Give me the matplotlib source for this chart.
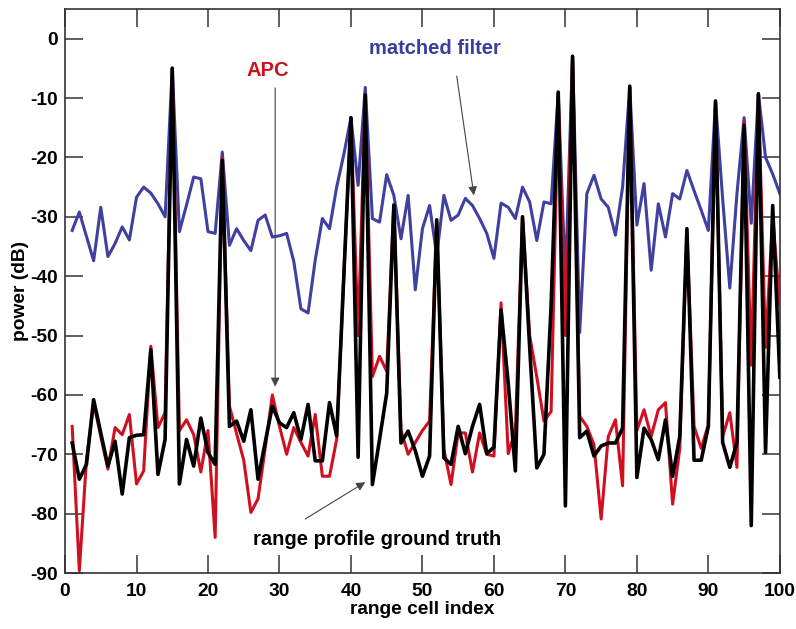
import matplotlib.pyplot as plt
import numpy as np

# range cell index 1..100
cells = np.arange(1, 101)

# matched filter (blue)
matched = [-32.3, -29.2, -33.3, -37.4, -28.4, -36.7, -34.5, -31.7, -33.9, -26.7,
           -25.0, -26.0, -27.8, -30.0, -4.9, -32.5, -28.0, -23.3, -23.6, -32.5,
           -32.8, -19.1, -34.8, -32.0, -34.0, -35.7, -30.6, -29.7, -33.4, -33.2,
           -32.8, -37.5, -45.5, -46.2, -37.3, -30.3, -32.0, -25.0, -19.5, -13.3,
           -24.7, -8.2, -30.3, -30.9, -22.9, -26.4, -33.7, -26.4, -42.3, -32.0,
           -28.1, -36.5, -26.4, -30.6, -29.7, -26.9, -28.1, -30.3, -32.8, -37.0,
           -27.7, -28.4, -30.3, -25.0, -27.5, -34.0, -27.5, -27.8, -9.1, -40.7,
           -2.9, -49.5, -26.1, -23.0, -27.0, -28.4, -33.1, -25.0, -8.2, -31.4,
           -24.4, -39.0, -27.8, -33.4, -26.1, -27.0, -22.2, -25.6, -28.9, -32.3,
           -10.5, -27.0, -42.0, -26.1, -13.3, -31.1, -9.2, -20.0, -22.8, -26.1]

# APC (red)
apc = [-65.3, -89.6, -70.9, -61.3, -67.0, -72.5, -65.5, -66.7, -63.3, -75.0,
       -72.8, -51.8, -65.5, -63.0, -5.0, -66.0, -64.2, -66.7, -73.0, -66.0,
       -84.0, -20.0, -61.9, -66.5, -71.0, -79.8, -77.5, -69.0, -60.0, -65.3,
       -70.0, -65.5, -68.0, -70.3, -63.3, -73.7, -73.7, -67.5, -40.0, -13.5,
       -50.0, -9.5, -56.9, -53.5, -56.0, -28.0, -66.0, -70.0, -68.0, -66.0,
       -64.4, -31.0, -69.2, -75.1, -66.4, -66.4, -73.0, -66.4, -70.0, -70.3,
       -44.5, -69.9, -66.0, -30.0, -50.0, -57.0, -64.4, -62.8, -9.5, -50.0,
       -3.0, -63.6, -65.3, -68.4, -80.9, -67.0, -64.2, -75.3, -8.2, -66.0,
       -62.5, -67.0, -62.5, -61.3, -78.4, -69.0, -32.5, -65.3, -69.0, -65.0,
       -11.0, -67.0, -63.0, -72.2, -14.0, -55.0, -9.5, -52.0, -30.0, -45.0]

# range profile ground truth (black)
truth = [-68.1, -74.2, -71.7, -60.8, -66.4, -72.0, -67.8, -76.7, -67.2, -66.8,
         -66.7, -52.4, -73.4, -67.5, -5.0, -75.0, -67.5, -72.0, -63.9, -69.7,
         -71.7, -20.5, -65.3, -64.4, -67.8, -62.5, -74.2, -68.0, -61.9, -64.7,
         -65.5, -63.0, -67.5, -61.6, -71.1, -71.1, -61.3, -66.9, -40.0, -13.3,
         -70.5, -9.5, -75.1, -67.5, -59.7, -28.0, -68.1, -66.1, -69.4, -73.7,
         -70.3, -30.5, -70.6, -71.7, -65.3, -69.9, -65.3, -61.6, -69.9, -68.8,
         -45.7, -58.0, -72.8, -30.0, -52.0, -72.3, -70.0, -45.0, -9.0, -78.7,
         -3.0, -67.2, -66.1, -70.3, -68.6, -68.1, -68.1, -65.6, -8.0, -73.9,
         -65.6, -67.5, -70.9, -64.2, -73.7, -67.0, -32.0, -71.0, -71.0, -65.3,
         -10.5, -68.0, -72.2, -68.0, -14.6, -82.0, -9.3, -69.7, -28.1, -57.0]

plt.rcParams['font.family'] = ['Liberation Sans', 'DejaVu Sans']
plt.rcParams['font.weight'] = 'bold'
plt.rcParams['axes.unicode_minus'] = False

fig = plt.figure(figsize=(7.96, 6.29), dpi=100)
ax = fig.add_axes([0.0817, 0.089, 0.898, 0.8967])

ax.plot(cells, matched, color='#4040a0', lw=2.2, zorder=2)
ax.plot(cells, apc, color='#d01020', lw=2.2, zorder=3)
ax.plot(cells, truth, color='black', lw=2.6, zorder=4)

ax.set_xlim(0, 100)
ax.set_ylim(-90, 5)
ax.set_xticks(np.arange(0, 101, 10))
ax.set_yticks(np.arange(-90, 1, 10))
ax.tick_params(direction='in', length=13, width=1.1, top=True, right=True,
               labelsize=13.8, color='#333333')
ax.tick_params(axis='x', pad=7)
ax.tick_params(axis='y', pad=5)
for lab in ax.get_xticklabels() + ax.get_yticklabels():
    lab.set_fontweight('bold')
for sp in ax.spines.values():
    sp.set_linewidth(1.2)
    sp.set_color('#333333')

ax.set_xlabel('range cell index', fontsize=13.8, fontweight='bold', labelpad=1)
ax.set_ylabel('power (dB)', fontsize=13.8, fontweight='bold', labelpad=1)

arrow = dict(arrowstyle='-|>', color='#444444', lw=0.8, mutation_scale=13,
             shrinkA=0, shrinkB=0)
ax.text(28.4, -5.4, 'APC', color='#cc1020', fontsize=14.5, fontweight='bold',
        ha='center', va='center')
ax.annotate('', xy=(29.4, -58.6), xytext=(29.4, -8.3), arrowprops=arrow)
ax.text(51.7, -1.7, 'matched filter', color='#3c3c9c', fontsize=14.5,
        fontweight='bold', ha='center', va='center')
ax.annotate('', xy=(57.2, -26.4), xytext=(54.8, -6.3), arrowprops=arrow)
ax.text(43.6, -84.3, 'range profile ground truth', color='black', fontsize=14.5,
        fontweight='bold', ha='center', va='center')
ax.annotate('', xy=(42.0, -74.7), xytext=(33.6, -80.9), arrowprops=arrow)

fig.savefig('out.png', dpi=100)
